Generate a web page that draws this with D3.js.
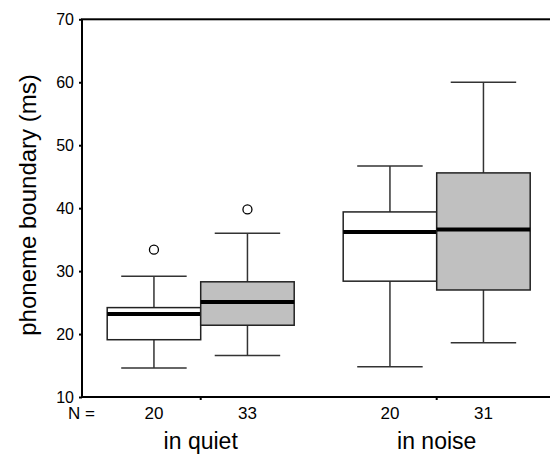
<!DOCTYPE html>
<html lang="en">
<head>
    <meta charset="UTF-8">
    <title>Phoneme boundary box plot</title>
    <script src="https://cdnjs.cloudflare.com/ajax/libs/d3/7.8.5/d3.min.js"></script>
    <style>
        body { margin: 0; background: #fff; font-family: Arial, "Liberation Sans", sans-serif; }
        svg { display: block; }
    </style>
</head>
<body>
<div id="chart"></div>
<script>
    // data
    const groups = ["in quiet", "in noise"];
    const boxGroup = ["in quiet", "in quiet", "in noise", "in noise"];
    const boxSeries = [0, 1, 0, 1];
    const seriesFill = ["#ffffff", "#c0c0c0"];
    const nCounts = [20, 33, 20, 31];
    const whiskLo = [14.6, 16.6, 14.8, 18.6];
    const q1 = [19.1, 21.4, 28.4, 27.0];
    const median = [23.2, 25.1, 36.2, 36.6];
    const q3 = [24.2, 28.3, 39.4, 45.6];
    const whiskHi = [29.2, 36.0, 46.7, 60.0];
    const outliers = [[33.4], [39.8], [], []];
    const yTicks = [10, 20, 30, 40, 50, 60, 70];

    const width = 550, height = 455;
    const plotLeft = 82, plotTop = 19.3, plotBottom = 397, plotRight = 554.7;

    const svg = d3.select("#chart").append("svg")
        .attr("width", width)
        .attr("height", height);

    const y = d3.scaleLinear().domain([10, 70]).range([plotBottom, plotTop]);
    const x0 = d3.scaleBand().domain(groups).range([plotLeft + 0.7, plotRight]).padding(0);
    const x1 = d3.scaleBand().domain([0, 1]).range([0, x0.bandwidth()])
        .paddingInner(0).paddingOuter(0.262);

    // frame
    svg.append("rect")
        .attr("x", plotLeft).attr("y", plotTop)
        .attr("width", plotRight - plotLeft).attr("height", plotBottom - plotTop)
        .attr("fill", "none").attr("stroke", "#000").attr("stroke-width", 2);

    // y axis
    const yAxis = svg.append("g")
        .attr("transform", `translate(${plotLeft},0)`)
        .call(d3.axisLeft(y).tickValues(yTicks).tickSize(3).tickSizeOuter(0).tickPadding(5));
    yAxis.select(".domain").remove();
    yAxis.selectAll(".tick line").attr("stroke", "#000").attr("stroke-width", 2);
    yAxis.selectAll(".tick text")
        .attr("font-size", 16).attr("fill", "#000")
        .attr("font-family", "Arial, 'Liberation Sans', sans-serif");

    // x axis ticks at group centres
    const xAxis = svg.append("g")
        .attr("transform", `translate(0,${plotBottom})`)
        .call(d3.axisBottom(x0).tickSize(3).tickSizeOuter(0).tickFormat(""));
    xAxis.select(".domain").remove();
    xAxis.selectAll(".tick line").attr("stroke", "#000").attr("stroke-width", 2);

    const boxes = d3.range(nCounts.length).map(i => ({
        group: boxGroup[i], s: boxSeries[i], n: nCounts[i],
        lo: whiskLo[i], q1: q1[i], med: median[i], q3: q3[i], hi: whiskHi[i], out: outliers[i]
    }));

    const bx = d => x0(d.group) + x1(d.s);
    const bw = x1.bandwidth();
    const cx = d => bx(d) + bw / 2;
    const capW = bw * 0.7;

    const g = svg.append("g");
    const box = g.selectAll("g.box").data(boxes).enter().append("g").attr("class", "box");

    // whiskers
    box.append("line")
        .attr("x1", cx).attr("x2", cx)
        .attr("y1", d => y(d.hi)).attr("y2", d => y(d.q3))
        .attr("stroke", "#333").attr("stroke-width", 1.5);
    box.append("line")
        .attr("x1", cx).attr("x2", cx)
        .attr("y1", d => y(d.q1)).attr("y2", d => y(d.lo))
        .attr("stroke", "#333").attr("stroke-width", 1.5);
    box.append("line")
        .attr("x1", d => cx(d) - capW / 2).attr("x2", d => cx(d) + capW / 2)
        .attr("y1", d => y(d.hi)).attr("y2", d => y(d.hi))
        .attr("stroke", "#333").attr("stroke-width", 1.5);
    box.append("line")
        .attr("x1", d => cx(d) - capW / 2).attr("x2", d => cx(d) + capW / 2)
        .attr("y1", d => y(d.lo)).attr("y2", d => y(d.lo))
        .attr("stroke", "#333").attr("stroke-width", 1.5);

    // boxes
    box.append("rect")
        .attr("x", bx).attr("width", bw)
        .attr("y", d => y(d.q3)).attr("height", d => y(d.q1) - y(d.q3))
        .attr("fill", d => seriesFill[d.s])
        .attr("stroke", "#222").attr("stroke-width", 1.5);

    // medians
    box.append("line")
        .attr("x1", bx).attr("x2", d => bx(d) + bw)
        .attr("y1", d => y(d.med)).attr("y2", d => y(d.med))
        .attr("stroke", "#000").attr("stroke-width", 4);

    // outliers
    box.selectAll("circle").data(d => d.out.map(v => ({ v, d }))).enter().append("circle")
        .attr("cx", o => cx(o.d)).attr("cy", o => y(o.v))
        .attr("r", 4.5)
        .attr("fill", "#fff").attr("stroke", "#000").attr("stroke-width", 1.3);

    // N row
    svg.append("text")
        .attr("x", 68).attr("y", 419)
        .attr("font-size", 17).text("N =");
    svg.selectAll("text.n").data(boxes).enter().append("text")
        .attr("class", "n")
        .attr("x", cx).attr("y", 419)
        .attr("text-anchor", "middle").attr("font-size", 17)
        .text(d => d.n);

    // group labels
    svg.selectAll("text.grp").data(groups).enter().append("text")
        .attr("class", "grp")
        .attr("x", d => x0(d) + x0.bandwidth() / 2).attr("y", 449)
        .attr("text-anchor", "middle").attr("font-size", 23)
        .text(d => d);

    // y label
    svg.append("text")
        .attr("transform", "translate(36,205) rotate(-90)")
        .attr("text-anchor", "middle").attr("font-size", 24)
        .text("phoneme boundary (ms)");
</script>
</body>
</html>
